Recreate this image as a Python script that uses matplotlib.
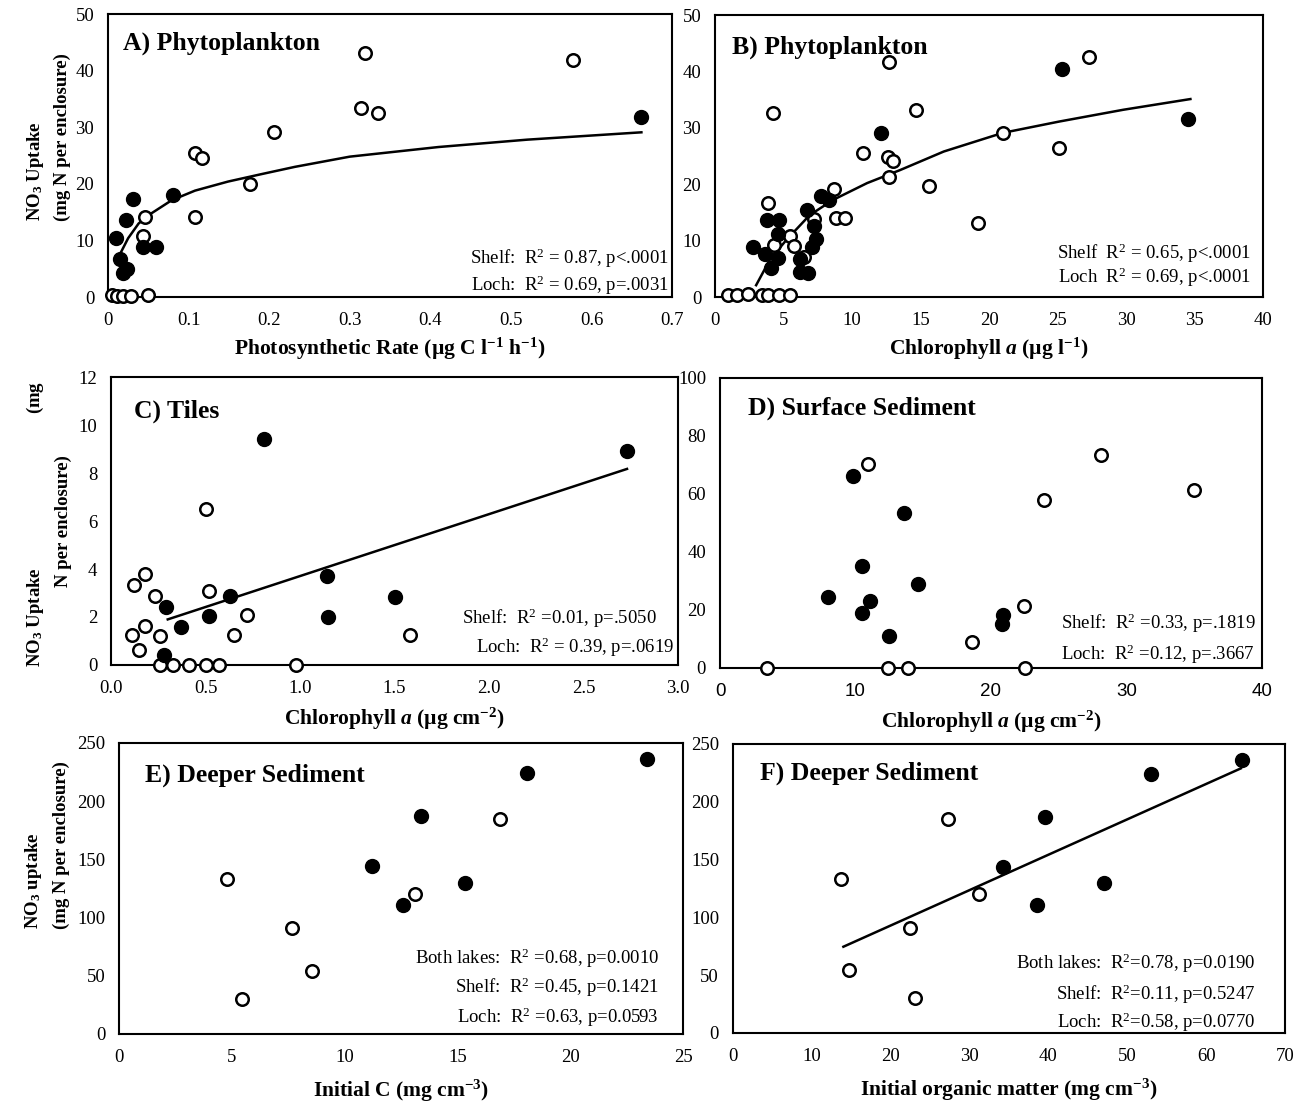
import numpy as np
import matplotlib
matplotlib.use('Agg')
import matplotlib.pyplot as plt

#  ---------------------------------------------------------  #
#  Data                                  #
#  ---------------------------------------------------------  #
# A) Phytoplankton - photosynthetic rate
a_fill_x = [0.661, 0.031, 0.081, 0.022, 0.0095, 0.043, 0.060, 0.015, 0.023, 0.019]
a_fill_y = [31.8, 17.4, 18.0, 13.6, 10.4, 8.9, 8.8, 6.7, 4.9, 4.3]
a_open_x = [0.319, 0.577, 0.314, 0.335, 0.206, 0.108, 0.117, 0.176, 0.108, 0.046,
            0.044, 0.005, 0.011, 0.019, 0.028, 0.049]
a_open_y = [43.1, 41.9, 33.4, 32.5, 29.1, 25.5, 24.5, 20.0, 14.2, 14.2,
            10.8, 0.3, 0.2, 0.2, 0.2, 0.4]
a_trend_x = [0.016, 0.025, 0.038, 0.054, 0.079, 0.108, 0.149, 0.19, 0.232, 0.3, 0.41, 0.52, 0.662]
a_trend_y = [7.9, 10.4, 13.0, 14.8, 17.1, 18.8, 20.4, 21.7, 23.0, 24.8, 26.5, 27.8, 29.1]

# B) Phytoplankton - chlorophyll a
b_fill_x = [25.3, 34.5, 12.1, 7.75, 8.3, 6.7, 3.8, 4.7, 4.6, 2.8, 3.65, 4.6, 4.1,
            7.2, 7.4, 7.05, 6.2, 6.2, 6.8]
b_fill_y = [40.4, 31.5, 29.1, 17.9, 17.2, 15.4, 13.6, 13.7, 11.2, 8.9, 7.7, 7.0, 5.1,
            12.6, 10.3, 8.8, 6.8, 4.4, 4.2]
b_open_x = [12.7, 27.3, 4.2, 14.7, 21.0, 10.8, 12.6, 13.0, 12.7, 25.1, 15.6, 19.2,
            3.9, 8.7, 8.8, 9.5, 5.5, 5.8, 7.2, 4.3, 6.5,
            0.97, 1.58, 2.4, 3.44, 3.88, 4.66, 5.44]
b_open_y = [41.6, 42.6, 32.6, 33.2, 29.1, 25.5, 24.9, 24.2, 21.2, 26.4, 19.6, 13.1,
            16.7, 19.1, 14.0, 14.1, 10.8, 9.0, 13.8, 9.2, 7.1,
            0.3, 0.3, 0.5, 0.3, 0.3, 0.4, 0.4]
b_trend_x = [3.0, 4.0, 5.2, 6.9, 8.6, 11.1, 13.5, 16.7, 21.0, 25.1, 29.8, 34.7]
b_trend_y = [2.1, 6.6, 10.1, 14.5, 17.2, 20.2, 22.5, 25.8, 29.1, 31.1, 33.2, 35.1]

# C) Tiles
c_fill_x = [0.81, 2.73, 1.14, 1.50, 0.63, 0.29, 0.52, 1.15, 0.37, 0.28]
c_fill_y = [9.4, 8.93, 3.69, 2.84, 2.88, 2.42, 2.05, 2.0, 1.6, 0.42]
c_open_x = [0.50, 0.18, 0.12, 0.52, 0.23, 0.72, 0.18, 0.11, 0.26, 0.65, 1.58, 0.15,
            0.26, 0.33, 0.41, 0.50, 0.57, 0.98]
c_open_y = [6.5, 3.8, 3.35, 3.07, 2.87, 2.09, 1.61, 1.24, 1.2, 1.25, 1.25, 0.64,
            0, 0, 0, 0, 0, 0]
c_trend_x = [0.30, 2.73]
c_trend_y = [1.9, 8.17]

# D) Surface sediment
d_fill_x = [9.8, 13.6, 10.5, 14.6, 8.0, 11.1, 10.5, 20.9, 20.8, 12.5]
d_fill_y = [66.1, 53.4, 35.3, 28.9, 24.6, 23.2, 18.8, 18.2, 15.0, 10.9]
d_open_x = [10.9, 28.1, 35.0, 23.9, 22.4, 18.6, 3.5, 12.4, 13.9, 22.5]
d_open_y = [70.4, 73.3, 61.4, 57.9, 21.3, 8.9, 0, 0, 0, 0]

# E/F) Deeper sediment (same uptake values, two predictors)
deep_fill_y = [236, 224, 187, 144, 130, 111]
deep_open_y = [133, 185, 120, 91, 54.5, 30]
e_fill_x = [23.4, 18.1, 13.4, 11.2, 15.35, 12.6]
e_open_x = [4.8, 16.9, 13.1, 7.66, 8.54, 5.43]
f_fill_x = [64.6, 53.0, 39.5, 34.3, 47.0, 38.5]
f_open_x = [13.7, 27.3, 31.2, 22.4, 14.7, 23.1]
f_trend_x = [14.0, 64.4]
f_trend_y = [74.6, 228.9]

stats_a = ['Shelf:  R$^2$ = 0.87, p<.0001', 'Loch:  R$^2$ = 0.69, p=.0031']
stats_b = ['Shelf  R$^2$ = 0.65, p<.0001', 'Loch  R$^2$ = 0.69, p<.0001']
stats_c = ['Shelf:  R$^2$ =0.01, p=.5050', 'Loch:  R$^2$ = 0.39, p=.0619']
stats_d = ['Shelf:  R$^2$ =0.33, p=.1819', 'Loch:  R$^2$ =0.12, p=.3667']
stats_e = ['Both lakes:  R$^2$ =0.68, p=0.0010', 'Shelf:  R$^2$ =0.45, p=0.1421',
           'Loch:  R$^2$ =0.63, p=0.0593']
stats_f = ['Both lakes:  R$^2$=0.78, p=0.0190', 'Shelf:  R$^2$=0.11, p=0.5247',
           'Loch:  R$^2$=0.58, p=0.0770']

#  ---------------------------------------------------------  #
#  Fonts / figure                                              #
#  ---------------------------------------------------------  #
plt.rcParams['font.family'] = ['Liberation Serif', 'DejaVu Serif']
plt.rcParams['mathtext.fontset'] = 'custom'
plt.rcParams['mathtext.rm'] = 'Liberation Serif'
plt.rcParams['mathtext.it'] = 'Liberation Serif:italic'
plt.rcParams['mathtext.bf'] = 'Liberation Serif:bold'
plt.rcParams['mathtext.bfit'] = 'Liberation Serif:italic:bold'

fig = plt.figure(figsize=(13.11, 11.03), dpi=100)

ax_a = fig.add_axes([0.0824, 0.7307, 0.4302, 0.2566])
ax_b = fig.add_axes([0.5454, 0.7307, 0.4180, 0.2557])
ax_c = fig.add_axes([0.0847, 0.3971, 0.4325, 0.2611])
ax_d = fig.add_axes([0.5492, 0.3944, 0.4134, 0.2629])
ax_e = fig.add_axes([0.0908, 0.0626, 0.4302, 0.2638])
ax_f = fig.add_axes([0.5591, 0.0635, 0.4211, 0.2620])

TICK_FS = 13.5
TITLE_FS = 18.5
XLAB_FS = 15.5
YLAB_FS = 13.5
STAT_FS = 13.5


def style(ax, xlim, ylim, xticks, yticks, xlabels=None):
    ax.set_xlim(xlim)
    ax.set_ylim(ylim)
    ax.set_xticks(xticks)
    ax.set_yticks(yticks)
    if xlabels is not None:
        ax.set_xticklabels(xlabels)
    ax.tick_params(axis='both', length=0, labelsize=TICK_FS)
    ax.tick_params(axis='x', pad=11)
    ax.tick_params(axis='y', pad=10)
    for s in ax.spines.values():
        s.set_linewidth(1.5)


def points(ax, xf, yf, xo, yo):
    ax.plot(xo, yo, 'o', ms=9, mfc='white', mec='black', mew=1.8,
            ls='none', zorder=3, clip_on=False)
    ax.plot(xf, yf, 'o', ms=10, mfc='black', mec='black', mew=1.0,
            ls='none', zorder=4, clip_on=False)


def stats(ax, lines, xs, ys, ha='right'):
    for t, x, y in zip(lines, xs, ys):
        ax.text(x, y, t, transform=ax.transAxes, ha=ha, va='center', fontsize=STAT_FS)


def title(ax, t, x, y):
    ax.text(x, y, t, transform=ax.transAxes, ha='left', va='center',
            fontsize=TITLE_FS, fontweight='bold')


def ylab(ax, t, x, y, va):
    ax.text(x, y, t, transform=ax.transAxes, rotation=90, ha='center', va=va,
            fontsize=YLAB_FS, fontweight='bold')


#  ---------------------------------------------------------  #
#  A                                                           #
#  ---------------------------------------------------------  #
ax_a.plot(a_trend_x, a_trend_y, 'k-', lw=1.8, zorder=2)
points(ax_a, a_fill_x, a_fill_y, a_open_x, a_open_y)
style(ax_a, (0, 0.7), (0, 50), [0, 0.1, 0.2, 0.3, 0.4, 0.5, 0.6, 0.7], [0, 10, 20, 30, 40, 50],
      ['0', '0.1', '0.2', '0.3', '0.4', '0.5', '0.6', '0.7'])
title(ax_a, 'A) Phytoplankton', 0.027, 0.898)
stats(ax_a, stats_a, [0.995, 0.995], [0.138, 0.042])
ax_a.set_xlabel('Photosynthetic Rate (µg C l$^{\\mathbf{-1}}$ h$^{\\mathbf{-1}}$)',
                fontsize=XLAB_FS, fontweight='bold', labelpad=5)
ylab(ax_a, 'NO$_\\mathbf{3}$ Uptake', -0.129, 0.27, 'bottom')
ylab(ax_a, '(mg N per enclosure)', -0.0816, 0.27, 'bottom')

#  ---------------------------------------------------------  #
#  B                                                           #
#  ---------------------------------------------------------  #
ax_b.plot(b_trend_x, b_trend_y, 'k-', lw=1.8, zorder=2)
points(ax_b, b_fill_x, b_fill_y, b_open_x, b_open_y)
style(ax_b, (0, 40), (0, 50), [0, 5, 10, 15, 20, 25, 30, 35, 40], [0, 10, 20, 30, 40, 50])
title(ax_b, 'B) Phytoplankton', 0.031, 0.887)
stats(ax_b, stats_b, [0.978, 0.978], [0.156, 0.071])
ax_b.set_xlabel('Chlorophyll $\\mathbfit{a}$ (µg l$^{\\mathbf{-1}}$)',
                fontsize=XLAB_FS, fontweight='bold', labelpad=5)

#  ---------------------------------------------------------  #
#  C                                                           #
#  ---------------------------------------------------------  #
ax_c.plot(c_trend_x, c_trend_y, 'k-', lw=1.8, zorder=2)
points(ax_c, c_fill_x, c_fill_y, c_open_x, c_open_y)
style(ax_c, (0, 3.0), (0, 12), [0, 0.5, 1.0, 1.5, 2.0, 2.5, 3.0], [0, 2, 4, 6, 8, 10, 12],
      ['0.0', '0.5', '1.0', '1.5', '2.0', '2.5', '3.0'])
title(ax_c, 'C) Tiles', 0.041, 0.882)
stats(ax_c, stats_c, [0.962, 0.993], [0.163, 0.0625])
ax_c.set_xlabel('Chlorophyll $\\mathbfit{a}$ (µg cm$^{\\mathbf{-2}}$)',
                fontsize=XLAB_FS, fontweight='bold', labelpad=6)
ylab(ax_c, 'NO$_\\mathbf{3}$ Uptake                                 (mg', -0.134, 0.49, 'center')
ylab(ax_c, 'N per enclosure)', -0.0847, 0.50, 'center')

#  ---------------------------------------------------------  #
#  D                                                           #
#  ---------------------------------------------------------  #
points(ax_d, d_fill_x, d_fill_y, d_open_x, d_open_y)
style(ax_d, (0, 40), (0, 100), [0, 10, 20, 30, 40], [0, 20, 40, 60, 80, 100])
for lab in ax_d.get_xticklabels():
    lab.set_fontfamily('Liberation Sans')
title(ax_d, 'D) Surface Sediment', 0.052, 0.897)
stats(ax_d, stats_d, [0.63, 0.63], [0.155, 0.048], ha='left')
ax_d.set_xlabel('Chlorophyll $\\mathbfit{a}$ (µg cm$^{\\mathbf{-2}}$)',
                fontsize=XLAB_FS, fontweight='bold', labelpad=6)

#  ---------------------------------------------------------  #
#  E                                                           #
#  ---------------------------------------------------------  #
points(ax_e, e_fill_x, deep_fill_y, e_open_x, deep_open_y)
style(ax_e, (0, 25), (0, 250), [0, 5, 10, 15, 20, 25], [0, 50, 100, 150, 200, 250])
title(ax_e, 'E) Deeper Sediment', 0.046, 0.89)
stats(ax_e, stats_e, [0.957, 0.957, 0.957], [0.261, 0.162, 0.058])
ax_e.set_xlabel('Initial C (mg cm$^{\\mathbf{-3}}$)', fontsize=XLAB_FS, fontweight='bold', labelpad=8)
ylab(ax_e, 'NO$_\\mathbf{3}$ uptake', -0.152, 0.36, 'bottom')
ylab(ax_e, '(mg N per enclosure)', -0.103, 0.36, 'bottom')

#  ---------------------------------------------------------  #
#  F                                                           #
#  ---------------------------------------------------------  #
ax_f.plot(f_trend_x, f_trend_y, 'k-', lw=1.8, zorder=2)
points(ax_f, f_fill_x, deep_fill_y, f_open_x, deep_open_y)
style(ax_f, (0, 70), (0, 250), [0, 10, 20, 30, 40, 50, 60, 70], [0, 50, 100, 150, 200, 250])
title(ax_f, 'F) Deeper Sediment', 0.049, 0.90)
stats(ax_f, stats_f, [0.946, 0.946, 0.946], [0.242, 0.135, 0.038])
ax_f.set_xlabel('Initial organic matter (mg cm$^{\\mathbf{-3}}$)',
                fontsize=XLAB_FS, fontweight='bold', labelpad=8)

fig.savefig('out.png', dpi=100)
